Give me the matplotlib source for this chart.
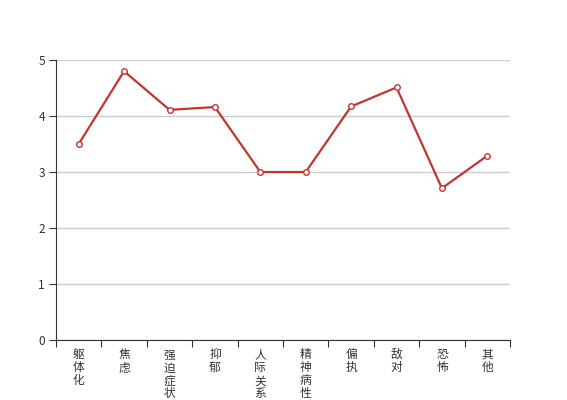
import matplotlib

matplotlib.use("Agg")
import matplotlib.pyplot as plt
import numpy as np

categories = ["躯体化", "焦虑", "强迫症状", "抑郁", "人际关系敏感",
              "精神病性", "偏执", "敌对", "恐怖", "其他"]
scores = [3.5, 4.8, 4.11, 4.16, 3.0, 3.0, 4.17, 4.51, 2.71, 3.29]
y_ticks = [0, 1, 2, 3, 4, 5]

plt.rcParams["font.family"] = ["Noto Sans CJK SC", "DejaVu Sans"]

fig = plt.figure(figsize=(5.67, 4.0), dpi=100)
ax = fig.add_axes([56 / 567, 0.15, (510 - 56) / 567, 0.70])

x = np.arange(len(categories))
ax.plot(x, scores, color="#c23531", lw=1.6, marker="o", ms=4,
        mfc="white", mec="#c23531", mew=1, zorder=3, clip_on=False)

ax.set_xlim(-0.5, len(categories) - 0.5)
ax.set_ylim(0, 5)
ax.set_yticks(y_ticks)
ax.yaxis.grid(True, color="#cccccc", lw=1)
ax.set_axisbelow(True)

# ticks on band boundaries, labels in the band centres
ax.set_xticks(np.arange(len(categories) + 1) - 0.5)
ax.set_xticklabels([])
ax.set_xticks(x, minor=True)
ax.set_xticklabels(["\n".join(c) for c in categories], minor=True,
                   linespacing=1.0, fontsize=8.5, color="#333333")
ax.tick_params(axis="x", which="minor", length=0, pad=6)
ax.tick_params(axis="x", which="major", length=5, color="#333333")
ax.tick_params(axis="y", length=5, color="#333333", labelsize=8.5,
               labelcolor="#333333", pad=3)

for side in ("top", "right"):
    ax.spines[side].set_visible(False)
for side in ("left", "bottom"):
    ax.spines[side].set_color("#333333")

fig.savefig("out.png", dpi=100)
